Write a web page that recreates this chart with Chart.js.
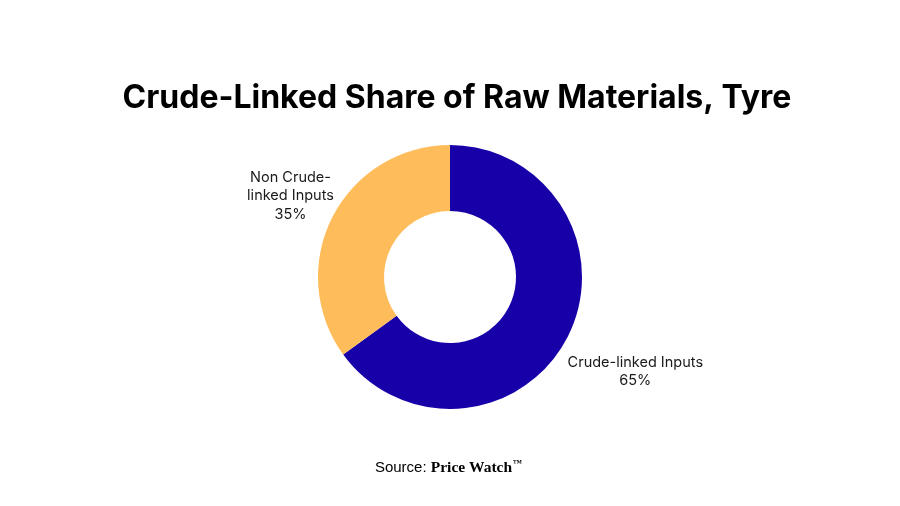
<!DOCTYPE html>
<html>
<head>
<meta charset="utf-8">
<script src="https://cdn.jsdelivr.net/npm/chart.js@4.4.0/dist/chart.umd.min.js"></script>
<style>
html,body{margin:0;padding:0;background:#fff;}
#wrap{width:900px;height:506px;position:relative;}
</style>
</head>
<body>
<div id="wrap"><canvas id="c" width="900" height="506"></canvas></div>
<script>
const titleText = "Crude-Linked Share of Raw Materials, Tyre";
const categories = ["Crude-linked Inputs", "Non Crude-linked Inputs"];
const labelLines = [["Crude-linked Inputs"], ["Non Crude-", "linked Inputs"]];
const shares = [65, 35];
const colors = ["#1800a8", "#febc5b"];
const sourcePrefix = "Source: ";
const sourceName = "Price Watch";
const sourceMark = "™";

const labelDist = [208, 179];

const overlay = {
  id: 'overlay',
  afterDraw(chart) {
    const ctx = chart.ctx;
    ctx.save();
    // title
    ctx.fillStyle = '#000';
    ctx.font = 'bold 32px Inter, "Noto Sans", sans-serif';
    ctx.textAlign = 'center';
    ctx.textBaseline = 'alphabetic';
    ctx.fillText(titleText, 457, 108);

    // slice labels
    const meta = chart.getDatasetMeta(0);
    ctx.font = '14.5px Inter, "Noto Sans", sans-serif';
    ctx.fillStyle = '#1a1a1a';
    ctx.textBaseline = 'middle';
    meta.data.forEach((arc, i) => {
      const mid = (arc.startAngle + arc.endAngle) / 2;
      const cx = arc.x + Math.cos(mid) * labelDist[i];
      const cy = arc.y + Math.sin(mid) * labelDist[i];
      const lines = labelLines[i].concat([shares[i] + "%"]);
      const lh = 18.5;
      const y0 = cy - (lines.length - 1) * lh / 2;
      lines.forEach((t, k) => ctx.fillText(t, cx, y0 + k * lh));
    });

    // source
    ctx.textBaseline = 'alphabetic';
    ctx.textAlign = 'left';
    const f1 = '15px "Liberation Sans", Arial, sans-serif';
    const f2 = 'bold 15.5px "Liberation Serif", "Times New Roman", serif';
    const f3 = 'bold 9px "Liberation Serif", serif';
    ctx.font = f1; const w1 = ctx.measureText(sourcePrefix).width;
    ctx.font = f2; const w2 = ctx.measureText(sourceName).width;
    ctx.font = f3; const w3 = ctx.measureText(sourceMark).width;
    let x = 448 - (w1 + w2 + w3) / 2;
    const by = 472;
    ctx.fillStyle = '#000';
    ctx.font = f1; ctx.fillText(sourcePrefix, x, by); x += w1;
    ctx.font = f2; ctx.fillText(sourceName, x, by); x += w2;
    ctx.font = f3; ctx.fillText(sourceMark, x + 1, by - 6);
    ctx.restore();
  }
};

new Chart(document.getElementById('c'), {
  type: 'doughnut',
  data: {
    labels: categories,
    datasets: [{
      data: shares,
      backgroundColor: colors,
      borderWidth: 0,
      hoverOffset: 0
    }]
  },
  options: {
    responsive: false,
    animation: false,
    cutout: '50%',
    layout: { padding: { top: 145, bottom: 97, left: 0, right: 0 } },
    plugins: {
      legend: { display: false },
      tooltip: { enabled: false },
      title: { display: false }
    }
  },
  plugins: [overlay]
});
</script>
</body>
</html>
